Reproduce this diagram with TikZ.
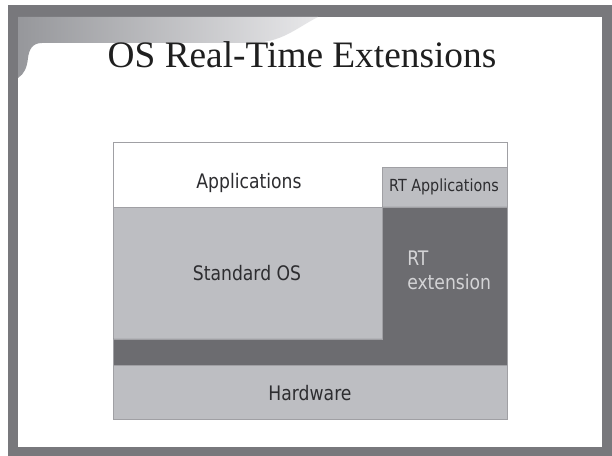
\documentclass[tikz,border=0pt]{standalone}
\usepackage{fontspec}
\setmainfont{Liberation Serif}
\newfontfamily\boxfont[FakeStretch=0.86]{DejaVu Sans}
\definecolor{framegray}{RGB}{120,120,124}
\definecolor{swoopdark}{RGB}{150,151,155}
\definecolor{swooplight}{RGB}{232,232,234}
\definecolor{layerlight}{RGB}{189,190,194}
\definecolor{layerdark}{RGB}{108,108,112}
\definecolor{layeredge}{RGB}{160,160,164}
\definecolor{textdark}{RGB}{45,45,48}
\definecolor{textlight}{RGB}{212,212,214}
\tikzset{
  layer/.style={draw=layeredge, line width=0.5pt},
  layertext/.style={inner sep=0.75pt, text=textdark, font=\boxfont\fontsize{15}{18}\selectfont}
}
\begin{document}
\begin{tikzpicture}[x=0.75pt,y=0.75pt,yscale=-1,xscale=1]
    \useasboundingbox (0,0) rectangle (612,456);

    %Shape: Rectangle [slide frame]
    \fill [framegray] (8,5) rectangle (612,456);
    \fill [white] (18,17) rectangle (602,447);
    %Shape: Swoosh [top left corner]
    \shade [left color=swoopdark, right color=swooplight] (18,17) -- (318,17) .. controls (296,28) and (282,43) .. (250,43) -- (42,43) .. controls (32,43) and (29,50) .. (28,58) .. controls (27,68) and (24,74) .. (18,78) -- cycle ;

    % Text Node
    \draw (302,68) node [anchor=base][inner sep=0.75pt] [text=black!88, font=\fontsize{28}{32}\selectfont] (title) {OS Real-Time Extensions};

    %Shape: Rectangle [applications]
    \filldraw [layer, fill=white] (113,142) rectangle (507,207) ;
    %Shape: Rectangle [rt applications]
    \filldraw [layer, fill=layerlight] (382,167) rectangle (507,207) ;
    %Shape: Rectangle [standard os]
    \filldraw [layer, fill=layerlight] (113,207) rectangle (382,339) ;
    %Shape: Polygon [rt extension]
    \filldraw [layer, fill=layerdark] (382,207) -- (507,207) -- (507,365) -- (113,365) -- (113,339) -- (382,339) -- cycle ;
    %Shape: Rectangle [hardware]
    \filldraw [layer, fill=layerlight] (113,365) rectangle (507,419) ;

    % Text Node
    \draw (249,183) node [layertext] (apps) {Applications};
    % Text Node
    \draw (444,187) node [layertext, font=\boxfont\fontsize{12.5}{15}\selectfont] (rtapps) {RT Applications};
    % Text Node
    \draw (247,273) node [layertext] (stdos) {Standard OS};
    % Text Node
    \draw (406,270) node [anchor=west][layertext, text=textlight] [align=left] (rtext) {RT\\extension};
    % Text Node
    \draw (310,393) node [layertext] (hw) {Hardware};

\end{tikzpicture}
\end{document}
